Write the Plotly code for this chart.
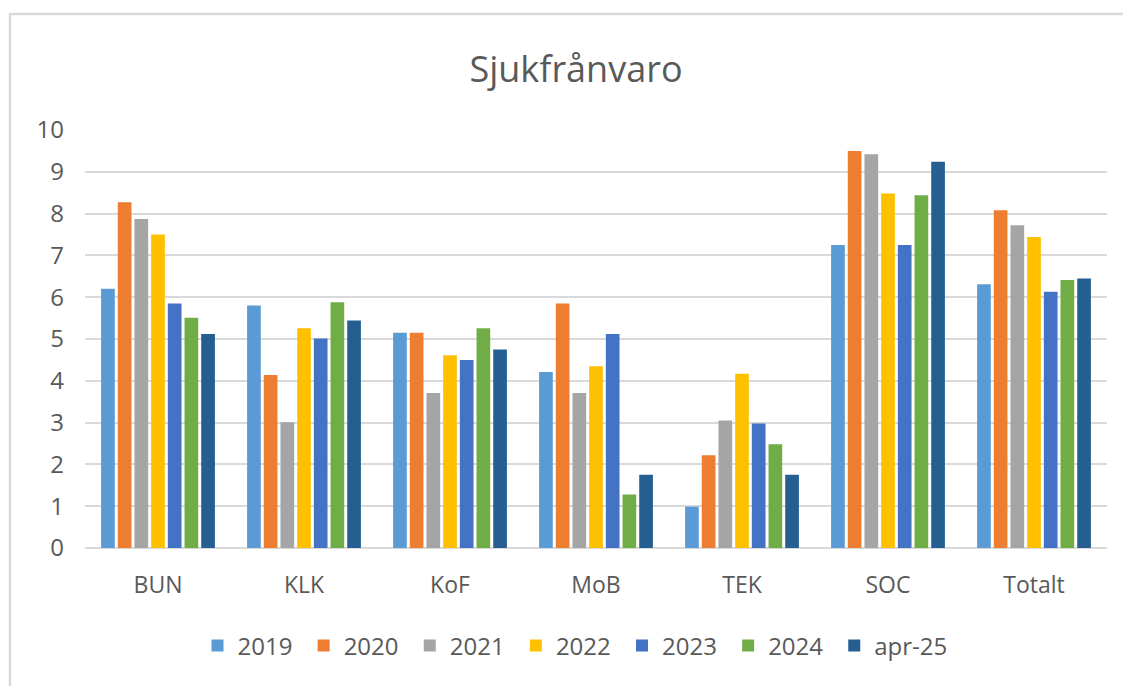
import plotly.graph_objects as go

categories = ["BUN", "KLK", "KoF", "MoB", "TEK", "SOC", "Totalt"]
series_names = ["2019", "2020", "2021", "2022", "2023", "2024", "apr-25"]

v2019 = [6.20, 5.80, 5.15, 4.21, 0.99, 7.25, 6.31]
v2020 = [8.27, 4.14, 5.15, 5.85, 2.22, 9.50, 8.08]
v2021 = [7.87, 3.01, 3.71, 3.71, 3.05, 9.42, 7.72]
v2022 = [7.50, 5.26, 4.61, 4.35, 4.17, 8.48, 7.44]
v2023 = [5.85, 5.01, 4.50, 5.12, 2.98, 7.25, 6.13]
v2024 = [5.51, 5.88, 5.26, 1.28, 2.48, 8.44, 6.41]
vapr25 = [5.12, 5.44, 4.75, 1.75, 1.75, 9.24, 6.45]

colors = ["#5B9BD5", "#ED7D31", "#A5A5A5", "#FFC000", "#4472C4", "#70AD47", "#255E91"]
all_values = [v2019, v2020, v2021, v2022, v2023, v2024, vapr25]

y_ticks = list(range(0, 11))

FONT = "Open Sans"
TXT = "#595959"
GRID = "#D9D9D9"

fig = go.Figure()
for name, vals, col in zip(series_names, all_values, colors):
    fig.add_trace(go.Bar(name=name + " ", x=categories, y=vals, marker=dict(color=col, line=dict(width=0))))

# page body has an 8px margin; work in page pixels and convert
OFF = 8
W, H = 1131 - OFF, 686 - OFF
PL, PR, PT, PB = 85, 1107, 130, 548  # plot area in page px
L = PL - OFF
R = W - (PR - OFF)
T = PT - OFF
B = H - (PB - OFF)
pw = PR - PL
ph = PB - PT

def px2paper_x(x):
    return (x - PL) / pw

def px2paper_y(y):
    return (PB - y) / ph

fig.update_layout(
    width=W, height=H,
    margin=dict(l=L, r=R, t=T, b=B),
    paper_bgcolor="white", plot_bgcolor="white",
    barmode="group", bargap=0.2, bargroupgap=0.18,
    title=dict(text="Sjukfrånvaro", x=(576 - OFF) / W, xanchor="center",
               y=1 - (69 - OFF) / H, yanchor="middle", yref="container",
               font=dict(family=FONT, size=36, color=TXT)),
    font=dict(family=FONT, color=TXT),
    legend=dict(orientation="h", x=px2paper_x(578), xanchor="center", y=px2paper_y(646), yanchor="middle",
                font=dict(family=FONT, size=24, color=TXT)),
    xaxis=dict(showgrid=False, showline=False, ticks="", tickfont=dict(family=FONT, size=23, color=TXT),
               ticklabelstandoff=21),
    yaxis=dict(range=[0, 10], tickvals=y_ticks, showgrid=True, gridcolor=GRID, gridwidth=1.8,
               zeroline=True, zerolinecolor=GRID, zerolinewidth=1.8, showline=False, ticks="",
               tickfont=dict(family=FONT, size=24, color=TXT), ticklabelstandoff=20),
    shapes=[
        dict(type="line", xref="paper", yref="paper", x0=px2paper_x(10), x1=px2paper_x(10),
             y0=px2paper_y(13), y1=px2paper_y(700), line=dict(color=GRID, width=2.5)),
        dict(type="line", xref="paper", yref="paper", x0=px2paper_x(10), x1=px2paper_x(1140),
             y0=px2paper_y(14), y1=px2paper_y(14), line=dict(color=GRID, width=2.5)),
    ],
)

fig.write_html("out.html")
